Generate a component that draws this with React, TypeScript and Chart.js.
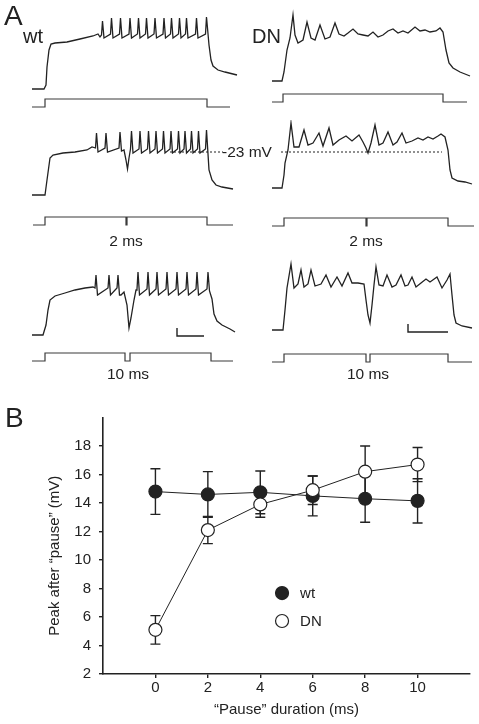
import React, { useEffect, useRef } from "react";
import { Chart, registerables } from "chart.js";
Chart.register(...registerables);

type Pt = [number, number];

const FONT = "'Liberation Sans', Arial, Helvetica, sans-serif";
const INK = "#222";
Chart.defaults.font.family = FONT;
Chart.defaults.color = INK;

// ---------- Panel A: membrane traces [time ms, membrane potential mV] ----------
const wtTrace1: Pt[] = [[-26,-66],[-2,-66],[2,-62],[4,-44],[8,-27],[12,-21],[20,-20],[44,-19],[70,-16],[96,-13],[106,-11],[110,-14],[113,-12],[115,2],[118,-15],[131,-11],[133,5],[136,-15],[149,-11],[151,5],[154,-15],[168,-11],[170,5],[173,-15],[185,-11],[187,5],[190,-15],[201,-11],[203,5],[206,-15],[218,-11],[220,5],[223,-15],[236,-11],[238,5],[241,-15],[251,-11],[253,5],[256,-15],[267,-11],[269,5],[272,-15],[281,-11],[283,5],[286,-15],[301,-11],[303,5],[306,-15],[321,-11],[323,6],[328,-22],[332,-37],[336,-43],[346,-47],[360,-49],[384,-52]];
const dnTrace1: Pt[] = [[-22,-59],[-2,-59],[2,-50],[8,-28],[14,-16],[20,7],[24,-13],[30,-21],[40,-18],[48,0],[56,-16],[64,-18],[74,-3],[84,-17],[94,-15],[104,-1],[112,-12],[122,-14],[130,-11],[140,-7],[150,-12],[160,-13],[170,-14],[180,-10],[190,-15],[200,-13],[210,-9],[220,-7],[230,-11],[240,-9],[250,-11],[264,-5],[274,-9],[284,-8],[294,-10],[306,-9],[314,-6],[320,-10],[326,-28],[332,-41],[340,-46],[354,-50],[374,-54]];
const wtTrace2: Pt[] = [[-26,-66],[0,-66],[4,-51],[10,-29],[16,-26],[36,-24],[60,-23],[84,-21],[94,-18],[101,-19],[103,-4],[106,-23],[120,-19],[122,-4],[125,-23],[148,-19],[150,-3],[153,-22],[158,-21],[162,-31],[165,-40],[168,-29],[171,-20],[173,-2],[176,-24],[188,-20],[190,-2],[193,-24],[205,-20],[207,-2],[210,-24],[220,-20],[222,-2],[225,-24],[235,-20],[237,-2],[240,-24],[250,-20],[252,-2],[255,-24],[265,-20],[267,-2],[270,-24],[278,-20],[280,-2],[283,-24],[291,-20],[293,-2],[296,-24],[305,-20],[307,-2],[310,-24],[321,-20],[323,-1],[328,-41],[334,-51],[342,-56],[354,-58],[376,-60]];
const dnTrace2: Pt[] = [[-22,-59],[-2,-59],[2,-46],[4,-34],[10,-21],[16,6],[22,-18],[32,-18],[42,-1],[50,-16],[60,-14],[72,-4],[80,-17],[92,1],[100,-16],[112,-11],[126,-7],[138,-12],[152,-6],[160,-13],[166,-19],[170,-24],[176,-14],[184,4],[192,-16],[200,-14],[210,-3],[220,-16],[228,-13],[238,-4],[246,-14],[258,-12],[270,-9],[280,-11],[290,-8],[300,-10],[310,-7],[316,-5],[324,-8],[330,-21],[334,-41],[338,-49],[350,-52],[364,-53],[378,-55]];
const wtTrace3: Pt[] = [[-26,-66],[-4,-66],[2,-56],[6,-41],[10,-31],[20,-27],[40,-24],[60,-21],[80,-19],[96,-18],[100,-19],[102,-6],[105,-26],[126,-19],[128,-6],[131,-26],[144,-19],[146,-6],[149,-26],[152,-26],[158,-23],[164,-36],[168,-59],[172,-49],[178,-31],[182,-21],[184,-20],[186,-3],[189,-26],[204,-20],[206,-3],[209,-26],[222,-20],[224,-3],[227,-26],[242,-20],[244,-3],[247,-26],[262,-20],[264,-3],[267,-26],[282,-20],[284,-3],[287,-26],[302,-20],[304,-3],[307,-26],[324,-20],[326,-3],[329,-22],[334,-30],[338,-45],[344,-52],[354,-56],[370,-60],[380,-63]];
const dnTrace3: Pt[] = [[-22,-59],[0,-59],[4,-39],[8,-17],[16,7],[22,-17],[30,-13],[36,1],[42,-16],[50,-13],[56,1],[64,-15],[76,-13],[86,-4],[96,-16],[108,-6],[118,-15],[130,-2],[138,-12],[150,-12],[162,-13],[166,-29],[170,-44],[174,-52],[178,-34],[182,-14],[186,4],[192,-14],[200,-15],[208,-4],[218,-16],[226,-14],[236,-4],[244,-15],[250,-14],[258,-6],[266,-16],[276,-12],[286,-8],[294,-11],[308,-6],[318,-17],[328,-9],[334,-3],[338,-24],[342,-44],[346,-52],[358,-55],[378,-57]];

// command steps [time ms, level 0 = holding / 1 = step]
const wtCmd1: Pt[] = [[-26,0],[0,0],[0,1],[324,1],[324,0],[370,0]];
const dnCmd1: Pt[] = [[-22,0],[0,0],[0,1],[320,1],[320,0],[368,0]];
const wtCmd2: Pt[] = [[-24,0],[0,0],[0,1],[162,1],[162,0],[164,0],[164,1],[324,1],[324,0],[376,0]];
const dnCmd2: Pt[] = [[-22,0],[2,0],[2,1],[166,1],[166,0],[168,0],[168,1],[330,1],[330,0],[382,0]];
const wtCmd3: Pt[] = [[-26,0],[0,0],[0,1],[160,1],[160,0],[170,0],[170,1],[332,1],[332,0],[376,0]];
const dnCmd3: Pt[] = [[-22,0],[2,0],[2,1],[166,1],[166,0],[174,0],[174,1],[330,1],[330,0],[378,0]];

// -23 mV reference lines and scale bars
const wtRef2: Pt[] = [[250,-23],[356,-23]];
const dnRef2: Pt[] = [[-4,-23],[318,-23]];
const wtBar3: Pt[] = [[264,-59],[264,-67],[318,-67]];
const dnBar3: Pt[] = [[250,-53],[250,-61],[330,-61]];

// ---------- Panel B ----------
const pauseMs = [0, 2, 4, 6, 8, 10];
const wtPeak = [14.8, 14.6, 14.75, 14.5, 14.3, 14.15];
const wtErr = [1.6, 1.6, 1.5, 1.4, 1.65, 1.55];
const dnPeak = [5.1, 12.1, 13.9, 14.9, 16.2, 16.7];
const dnErr = [1.0, 0.95, 0.9, 1.0, 1.8, 1.2];
const xTicks = [0, 2, 4, 6, 8, 10];
const yTicks = [2, 4, 6, 8, 10, 12, 14, 16, 18];
const legendLabels = ["wt", "DN"];
const xTitle = "\u201CPause\u201D duration (ms)";
const yTitle = "Peak after \u201Cpause\u201D (mV)";

type CellProps = {
  left: number; top: number; width: number; height: number;
  xr: Pt; yr: Pt; cr: Pt;
  trace: Pt[]; cmd: Pt[]; dashed?: Pt[]; bar?: Pt[];
};

function TraceCell(p: CellProps) {
  const ref = useRef<HTMLCanvasElement>(null);
  useEffect(() => {
    const toXY = (a: Pt[]) => a.map(([x, y]) => ({ x, y }));
    const datasets: any[] = [
      { data: toXY(p.trace), yAxisID: "y", borderColor: INK, borderWidth: 1.3, pointRadius: 0, tension: 0 },
      { data: toXY(p.cmd), yAxisID: "yCmd", borderColor: "#3a3a3a", borderWidth: 1.2, pointRadius: 0, tension: 0 },
    ];
    if (p.dashed) datasets.push({ data: toXY(p.dashed), yAxisID: "y", borderColor: INK, borderWidth: 1, borderDash: [2, 2], pointRadius: 0 });
    if (p.bar) datasets.push({ data: toXY(p.bar), yAxisID: "y", borderColor: INK, borderWidth: 1.4, pointRadius: 0 });
    const chart = new Chart(ref.current!, {
      type: "line",
      data: { datasets },
      options: {
        animation: false,
        responsive: false,
        events: [],
        layout: { padding: 0 },
        plugins: { legend: { display: false }, tooltip: { enabled: false } },
        scales: {
          x: { type: "linear", display: false, min: p.xr[0], max: p.xr[1] },
          y: { display: false, min: p.yr[0], max: p.yr[1] },
          yCmd: { display: false, min: p.cr[0], max: p.cr[1] },
        },
      },
    });
    return () => chart.destroy();
  }, []);
  return (
    <canvas
      ref={ref}
      width={p.width}
      height={p.height}
      style={{ position: "absolute", left: p.left, top: p.top, width: p.width, height: p.height }}
    />
  );
}

const errorBarsPlugin = {
  id: "errorBars",
  beforeDatasetsDraw(chart: any) {
    const { ctx, scales } = chart;
    const x = scales.x, y = scales.y;
    ctx.save();
    ctx.strokeStyle = INK;
    ctx.lineWidth = 1.4;
    chart.data.datasets.forEach((ds: any) => {
      ds.data.forEach((d: any, i: number) => {
        const e = ds.errors[i];
        const px = x.getPixelForValue(d.x);
        const yt = y.getPixelForValue(d.y + e);
        const yb = y.getPixelForValue(d.y - e);
        ctx.beginPath();
        ctx.moveTo(px, yt); ctx.lineTo(px, yb);
        ctx.moveTo(px - 5, yt); ctx.lineTo(px + 5, yt);
        ctx.moveTo(px - 5, yb); ctx.lineTo(px + 5, yb);
        ctx.stroke();
      });
    });
    ctx.restore();
  },
};

const legendPlugin = {
  id: "innerLegend",
  afterDatasetsDraw(chart: any) {
    const { ctx, scales } = chart;
    const x = scales.x, y = scales.y;
    const lx = x.getPixelForValue(4.83);
    const rows = [
      { label: legendLabels[0], fill: INK, yv: 7.68 },
      { label: legendLabels[1], fill: "#fff", yv: 5.72 },
    ];
    ctx.save();
    ctx.font = `15px ${FONT}`;
    ctx.textBaseline = "middle";
    rows.forEach((r) => {
      const py = y.getPixelForValue(r.yv);
      ctx.beginPath();
      ctx.arc(lx, py, 6.5, 0, Math.PI * 2);
      ctx.fillStyle = r.fill;
      ctx.fill();
      ctx.lineWidth = 1.2;
      ctx.strokeStyle = INK;
      ctx.stroke();
      ctx.fillStyle = INK;
      ctx.fillText(r.label, lx + 18, py + 1);
    });
    ctx.restore();
  },
};

// y-axis title, drawn a little below the axis centre as in the original
const yTitlePlugin = {
  id: "yTitle",
  afterDraw(chart: any) {
    const { ctx, chartArea } = chart;
    ctx.save();
    ctx.font = `15px ${FONT}`;
    ctx.fillStyle = INK;
    ctx.textAlign = "center";
    ctx.textBaseline = "middle";
    ctx.translate(55, (chartArea.top + chartArea.bottom) / 2 + 10);
    ctx.rotate(-Math.PI / 2);
    ctx.fillText(yTitle, 0, 0);
    ctx.restore();
  },
};

function PanelB() {
  const ref = useRef<HTMLCanvasElement>(null);
  useEffect(() => {
    const mk = (vals: number[]) => pauseMs.map((x, i) => ({ x, y: vals[i] }));
    const common = {
      borderColor: INK, borderWidth: 1, pointRadius: 6.5, pointHoverRadius: 6.5,
      pointBorderWidth: 1.2, pointBorderColor: INK, tension: 0,
    };
    const chart = new Chart(ref.current!, {
      type: "line",
      data: {
        datasets: [
          { ...common, label: "DN", data: mk(dnPeak), errors: dnErr, pointBackgroundColor: "#fff" } as any,
          { ...common, label: "wt", data: mk(wtPeak), errors: wtErr, pointBackgroundColor: INK } as any,
        ],
      },
      options: {
        animation: false,
        responsive: false,
        events: [],
        layout: { padding: { left: 40, top: 17.5, right: 9, bottom: 0 } },
        plugins: { legend: { display: false }, tooltip: { enabled: false } },
        scales: {
          x: {
            type: "linear", min: -2, max: 12,
            afterBuildTicks: (s: any) => { s.ticks = xTicks.map((v) => ({ value: v })); },
            afterFit: (s: any) => { s.height = 50; },
            grid: { drawOnChartArea: false, drawTicks: true, tickLength: 4, color: INK, lineWidth: 1.4 },
            border: { display: true, color: INK, width: 1.6 },
            ticks: { font: { size: 15 }, color: INK, padding: 1, maxRotation: 0 },
            title: { display: true, text: xTitle, font: { size: 15 }, color: INK, padding: { top: 0, bottom: 5 } },
          },
          y: {
            min: 2, max: 20,
            afterBuildTicks: (s: any) => { s.ticks = yTicks.map((v) => ({ value: v })); },
            afterFit: (s: any) => { s.width = 63; },
            grid: { drawOnChartArea: false, drawTicks: true, tickLength: 4, color: INK, lineWidth: 1.4 },
            border: { display: true, color: INK, width: 1.6 },
            ticks: { font: { size: 15 }, color: INK, padding: 8 },
            title: { display: false },
          },
        },
      },
      plugins: [errorBarsPlugin, legendPlugin, yTitlePlugin],
    });
    return () => chart.destroy();
  }, []);
  return <canvas ref={ref} width={479} height={324} style={{ position: "absolute", left: 0, top: 400, width: 479, height: 324 }} />;
}

const lbl = (text: string, left: number, top: number, size: number, width?: number) => (
  <div
    key={text + left + top}
    style={{
      position: "absolute", left, top, fontSize: size, lineHeight: 1, whiteSpace: "nowrap",
      width: width, textAlign: width ? "center" : "left", fontFamily: FONT, color: INK,
    }}
  >
    {text}
  </div>
);

export default function App() {
  useEffect(() => {
    document.body.style.margin = "0";
  }, []);
  const wtX: Pt = [-46, 390];
  const dnX: Pt = [-42, 392];
  return (
    <div style={{ position: "fixed", left: 0, top: 0, width: 479, height: 724, background: "#fff", overflow: "hidden" }}>
      <TraceCell left={22} top={5} width={218} height={110} xr={wtX} yr={[-92, 18]} cr={[-1.0, 12.75]} trace={wtTrace1} cmd={wtCmd1} />
      <TraceCell left={262} top={5} width={217} height={110} xr={dnX} yr={[-93, 17]} cr={[-1.625, 12.125]} trace={dnTrace1} cmd={dnCmd1} />
      <TraceCell left={22} top={120} width={218} height={118} xr={wtX} yr={[-109, 9]} cr={[-1.625, 13.125]} trace={wtTrace2} cmd={wtCmd2} dashed={wtRef2} />
      <TraceCell left={262} top={120} width={217} height={118} xr={dnX} yr={[-109, 9]} cr={[-1.5, 13.25]} trace={dnTrace2} cmd={dnCmd2} dashed={dnRef2} />
      <TraceCell left={22} top={255} width={218} height={113} xr={wtX} yr={[-99, 14]} cr={[-0.875, 13.25]} trace={wtTrace3} cmd={wtCmd3} bar={wtBar3} />
      <TraceCell left={262} top={255} width={217} height={113} xr={dnX} yr={[-97, 16]} cr={[-0.75, 13.375]} trace={dnTrace3} cmd={dnCmd3} bar={dnBar3} />
      <PanelB />
      {lbl("A", 4, 2, 28)}
      {lbl("wt", 23, 26, 20)}
      {lbl("DN", 252, 26, 20)}
      {lbl("-23 mV", 222, 143.5, 15.5)}
      {lbl("2 ms", 96, 233, 15.5, 60)}
      {lbl("2 ms", 336, 233, 15.5, 60)}
      {lbl("10 ms", 98, 365.5, 15.5, 60)}
      {lbl("10 ms", 338, 365.5, 15.5, 60)}
      {lbl("B", 5, 404, 28)}
    </div>
  );
}
